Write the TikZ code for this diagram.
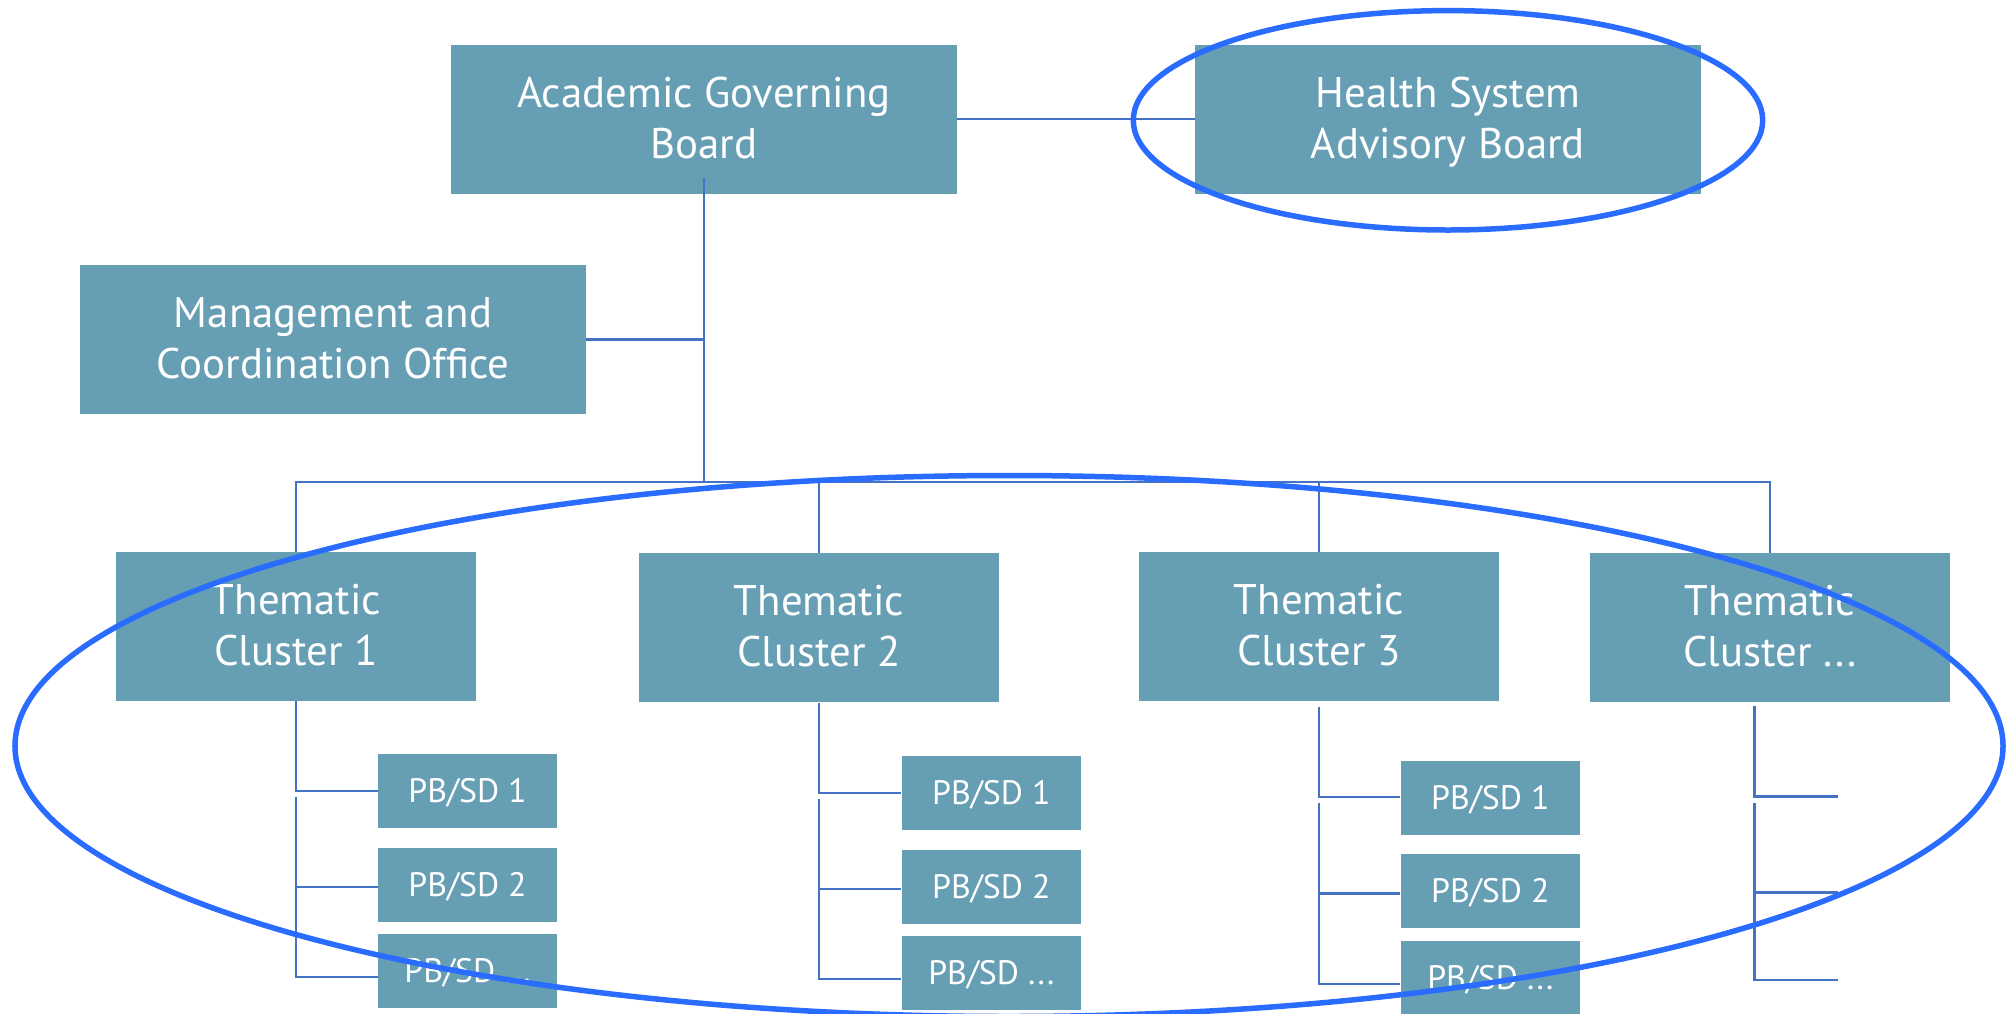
\documentclass[tikz,border=0pt]{standalone}
\usepackage{fontspec}
\setmainfont{PT Sans}
\usetikzlibrary{calc}
\definecolor{boxfill}{RGB}{102,158,180}
\definecolor{linkc}{RGB}{68,114,196}
\definecolor{ringc}{RGB}{41,108,255}
\newcommand\bigstrut{\rule[-10.4bp]{0pt}{48.4bp}}
\newcommand\pbstrut{\rule[-4bp]{0pt}{32.4bp}}
\begin{document}
\begin{tikzpicture}[x=1bp,y=-1bp,
  box/.style={fill=boxfill, text=white, inner sep=0pt, align=center},
  bigbox/.style={box, minimum width=506bp, minimum height=148.5bp, font=\fontsize{43}{50.7}\selectfont},
  clusbox/.style={box, minimum width=360bp, minimum height=148.5bp, font=\fontsize{43}{50.7}\selectfont},
  pbbox/.style={box, minimum width=179.5bp, minimum height=73.6bp, font=\fontsize{34}{40}\selectfont},
  link/.style={draw=linkc, line width=2.2bp},
  ring/.style={draw=ringc, line width=5.5bp}]
\useasboundingbox (0,0) rectangle (2008,1013);

% top level
\node[bigbox] (AGB)  at (704,119.25)  {\bigstrut Academic Governing\\\bigstrut Board};
\node[bigbox] (HSAB) at (1448,119.25) {\bigstrut Health System\\\bigstrut Advisory Board};
\node[bigbox] (MCO)  at (333,339.4)   {\bigstrut Management and\\\bigstrut Coordination Office};

% clusters
\node[clusbox] (C1) at (296,626.3)  {\bigstrut Thematic\\\bigstrut Cluster 1};
\node[clusbox] (C2) at (819,627.4)  {\bigstrut Thematic\\\bigstrut Cluster 2};
\node[clusbox] (C3) at (1319,626.3) {\bigstrut Thematic\\\bigstrut Cluster 3};
\node[clusbox] (C4) at (1770,627.4) {\bigstrut Thematic\\\bigstrut Cluster ...};

% PB/SD boxes
\node[pbbox] (P11) at (467.5,790.9) {\pbstrut PB/SD 1};
\node[pbbox] (P12) at (467.5,884.8) {\pbstrut PB/SD 2};
\node[pbbox] (P13) at (467.5,970.8) {\pbstrut PB/SD ...};
\node[pbbox] (P21) at (991.3,792.7) {\pbstrut PB/SD 1};
\node[pbbox] (P22) at (991.3,886.8) {\pbstrut PB/SD 2};
\node[pbbox] (P23) at (991.3,973.0) {\pbstrut PB/SD ...};
\node[pbbox] (P31) at (1490.3,797.8) {\pbstrut PB/SD 1};
\node[pbbox] (P32) at (1490.3,890.8) {\pbstrut PB/SD 2};
\node[pbbox] (P33) at (1490.3,977.6) {\pbstrut PB/SD ...};

% helper coordinates
\coordinate (busy) at (0,482);
\coordinate (c1b) at (296,796.5);
\coordinate (c2a) at (819,703.1);
\coordinate (c2b) at (819,799.0);
\coordinate (c3a) at (1319,707.1);
\coordinate (c3b) at (1319,803.3);
\coordinate (c4a) at (1754.4,706.4);
\coordinate (c4b) at (1754.4,802.6);
\coordinate (e41) at (1838.3,796.5);
\coordinate (e42) at (1838.3,892.4);
\coordinate (e43) at (1838.3,979.6);

% top connectors
\draw[link] (AGB.east) -- (HSAB.west);
\draw[link] ([yshift=16bp]AGB.south) -- (AGB.south |- busy);
\draw[link] (MCO.east) -- (MCO.east -| AGB.south);
\draw[link] (C1.north) -- (C1.north |- busy) -- (C4.north |- busy) -- (C4.north);
\draw[link] (C2.north) -- (C2.north |- busy);
\draw[link] (C3.north) -- (C3.north |- busy);

% cluster 1
\draw[link] (C1.south) |- (P11.west);
\draw[link] (c1b) |- ($(P13.west)+(0,6.3)$);
\draw[link] ($(P12.west)+(0,1.8)$) -- ($(P12.west -| c1b)+(0,1.8)$);
% cluster 2
\draw[link] (c2a) |- ($(P21.west)+(0,0.2)$);
\draw[link] (c2b) |- ($(P23.west)+(0,5.9)$);
\draw[link] ($(P22.west)+(0,2)$) -- ($(P22.west -| c2b)+(0,2)$);
% cluster 3
\draw[link] (c3a) |- ($(P31.west)+(0,-0.6)$);
\draw[link] (c3b) |- ($(P33.west)+(0,6.7)$);
\draw[link] ($(P32.west)+(0,2.6)$) -- ($(P32.west -| c3b)+(0,2.6)$);
% cluster 4 (free ends)
\draw[link] (c4a) |- (e41);
\draw[link] (c4b) |- (e43);
\draw[link] (e42) -- (e42 -| c4b);

% highlight rings
\draw[ring] (1448,120.3) ellipse [x radius=314.7bp, y radius=109.7bp];
\draw[ring] (1009,746) ellipse [x radius=994bp, y radius=270.5bp];
\end{tikzpicture}
\end{document}
